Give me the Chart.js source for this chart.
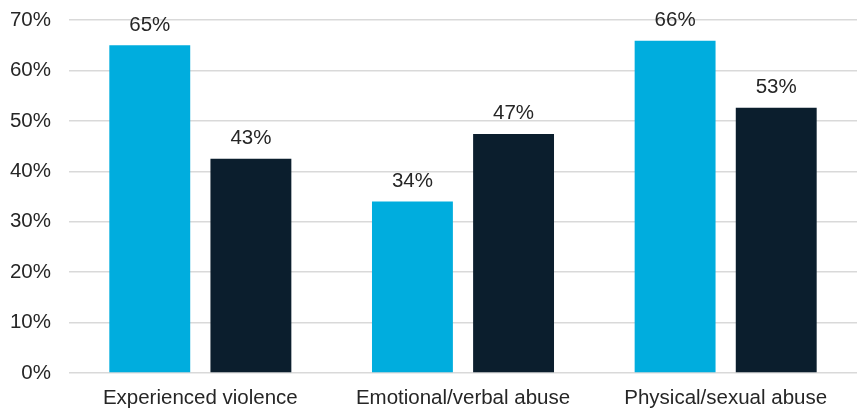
<!DOCTYPE html>
<html>
<head>
<meta charset="utf-8">
<script src="https://cdn.jsdelivr.net/npm/chart.js@4/dist/chart.umd.min.js"></script>
<style>
html,body{margin:0;padding:0;background:#fff;}
#wrap{width:858px;height:409px;position:relative;}
</style>
</head>
<body>
<div id="wrap"><canvas id="c" width="858" height="409"></canvas></div>
<script>
const categories = ["Experienced violence", "Emotional/verbal abuse", "Physical/sexual abuse"];
const seriesA = [65, 34, 65.9];
const seriesB = [42.5, 47.4, 52.6];
const yTicks = [0, 10, 20, 30, 40, 50, 60, 70];
const colorA = "#00ADDE";
const colorB = "#0B1E2D";
const FONT = "'Liberation Sans', Arial, sans-serif";

const valueLabels = {
  id: "valueLabels",
  afterDatasetsDraw(chart) {
    const ctx = chart.ctx;
    ctx.save();
    ctx.font = "20.5px " + FONT;
    ctx.fillStyle = "#262626";
    ctx.textAlign = "center";
    ctx.textBaseline = "bottom";
    chart.data.datasets.forEach((ds, i) => {
      const meta = chart.getDatasetMeta(i);
      meta.data.forEach((bar, j) => {
        ctx.fillText(Math.round(ds.data[j]) + "%", bar.x, bar.y - 10);
      });
    });
    ctx.restore();
  }
};

new Chart(document.getElementById("c"), {
  type: "bar",
  data: {
    labels: categories,
    datasets: [
      { label: "A", data: seriesA, backgroundColor: colorA, barPercentage: 0.8, categoryPercentage: 0.77 },
      { label: "B", data: seriesB, backgroundColor: colorB, barPercentage: 0.8, categoryPercentage: 0.77 }
    ]
  },
  options: {
    responsive: false,
    animation: false,
    devicePixelRatio: 1,
    layout: { padding: { top: 20, right: 1, left: 0, bottom: 0 } },
    plugins: { legend: { display: false }, tooltip: { enabled: false } },
    scales: {
      y: {
        min: 0, max: 70,
        afterBuildTicks(scale) { scale.ticks = yTicks.map(v => ({ value: v })); },
        afterFit(scale) { scale.width = 69; scale.paddingTop = 0; scale.paddingBottom = 0; },
        ticks: {
          callback: v => v + "%",
          color: "#262626",
          padding: 18,
          font: { family: FONT, size: 20.5 }
        },
        grid: { color: "#D9D9D9", lineWidth: 1.5, drawTicks: false },
        border: { display: false }
      },
      x: {
        afterFit(scale) { scale.height = 36; scale.paddingLeft = 0; scale.paddingRight = 0; },
        ticks: {
          color: "#262626",
          padding: 13,
          font: { family: FONT, size: 20.5 }
        },
        grid: { display: false, drawTicks: false },
        border: { display: false }
      }
    }
  },
  plugins: [valueLabels]
});
</script>
</body>
</html>
